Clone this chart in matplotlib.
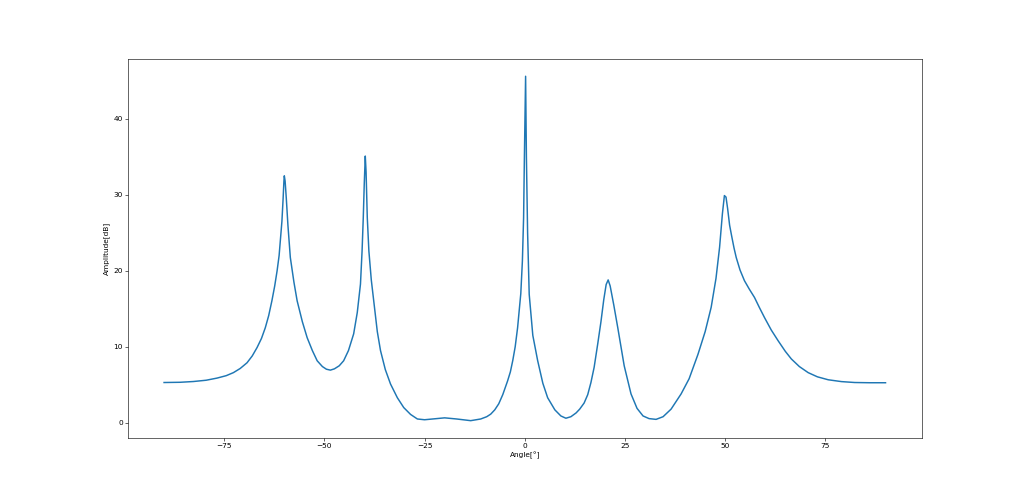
import matplotlib
matplotlib.use("Agg")
import matplotlib.pyplot as plt

angle = [
    -90, -86, -82.7, -79.5, -76.8, -74.5, -72.7, -71, -69.3, -68, -66.8, -65.7,
    -64.75, -63.9, -63.1, -62.4, -61.8, -61.3, -61, -60.6, -60.3, -60.1, -60,
    -59.8, -59.5, -59.1, -58.5, -57.6, -56.8, -55.5, -54.3, -53, -51.8, -50.5,
    -49.5, -48.5, -47.5, -46.3, -45.2, -44, -42.7, -41.8, -41, -40.6, -40.3,
    -40.05, -39.8, -39.6, -39.3, -38.9, -38.3, -37.7, -36.8, -36, -34.8, -33.5,
    -31.8, -30.2, -28.5, -26.8, -25, -23, -20, -17, -13.5, -11, -9.5, -8.5, -7.5,
    -6.5, -5.5, -4.3, -3.6, -3, -2.4, -1.8, -1, -0.6, -0.3, -0.1, 0.2, 0.4, 0.7,
    1.1, 2, 3.2, 4.5, 5.7, 7.5, 9, 10.25, 11.5, 12.8, 13.7, 14.8, 15.7, 16.5,
    17.3, 18.2, 19.0, 19.7, 20.3, 20.8, 21.3, 22.2, 23.2, 24.8, 26.5, 28, 29.5,
    31, 32.75, 34.5, 36.5, 39, 41, 43.2, 45, 46.5, 47.7, 48.6, 49.3, 49.8, 50.2,
    50.6, 51.1, 51.6, 52.2, 52.75, 53.7, 54.8, 56, 57.3, 58.5, 59.8, 61.5, 63.2,
    65, 66.5, 68.5, 70.7, 73, 75.7, 79, 82.3, 86, 90,
]
amplitude = [
    5.3, 5.33, 5.43, 5.6, 5.88, 6.2, 6.6, 7.15, 7.9, 8.8, 9.9, 11.1,
    12.5, 14.1, 16.05, 18.0, 20.0, 22.0, 23.9, 26.5, 29.5, 31.8, 32.5,
    31.8, 29.5, 26.0, 21.75, 18.5, 16.05, 13.3, 11.2, 9.5, 8.16, 7.4,
    7.05, 6.93, 7.1, 7.5, 8.16, 9.5, 11.7, 14.5, 18.25, 22.6, 27.0,
    31.5, 35.1, 33.0, 27.0, 22.6, 18.8, 16.05, 12.0, 9.5, 7.0, 5.1,
    3.3, 2.0, 1.1, 0.5, 0.4, 0.5, 0.65, 0.5, 0.28, 0.5, 0.8, 1.14, 1.7,
    2.5, 3.7, 5.5, 6.7, 8.2, 10.0, 12.5, 17.0, 21.3, 27.0, 35.0, 45.6, 35.0, 25.0,
    16.9, 11.5, 8.2, 5.2, 3.3, 1.7, 0.9, 0.6, 0.8, 1.3, 1.8, 2.6, 3.7, 5.3,
    7.3, 10.4, 13.3, 16.2, 18.2, 18.8, 18.0, 15.5, 12.5, 7.5, 3.8, 1.9, 0.9,
    0.55, 0.45, 0.8, 1.8, 3.8, 5.8, 9.0, 12.0, 15.2, 19.0, 23.1, 27.5, 29.9, 29.7,
    28.2, 26.0, 24.6, 23.0, 21.75, 20.1, 18.7, 17.6, 16.5, 15.2, 13.85, 12.2, 10.8,
    9.4, 8.4, 7.4, 6.6, 6.05, 5.66, 5.42, 5.3, 5.27, 5.27,
]

# Исходная картинка была крупнее и уменьшена — сохраняем с низким dpi
plt.figure(figsize=(19.2, 9.225), dpi=1024 / 19.2)
plt.plot(angle, amplitude, linewidth=2)
plt.xlabel("Angle[°]")
plt.ylabel("Amplitude[dB]")
plt.savefig("out.png", dpi=1024 / 19.2)
